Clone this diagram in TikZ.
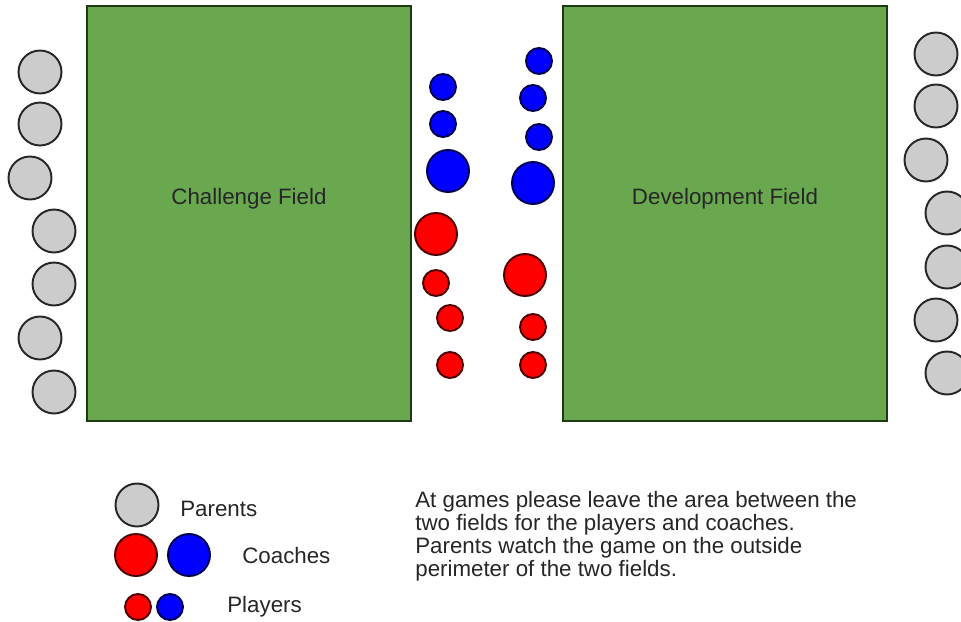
\documentclass[tikz,border=0pt]{standalone}
\usepackage{fontspec}
\setmainfont{Liberation Sans}
\usepackage{xcolor}
\usepackage{tikz}
\usetikzlibrary{positioning}

\definecolor{fieldgreen}{HTML}{6AA84F}
\definecolor{fieldedge}{HTML}{1F3A12}
\definecolor{parentgrey}{HTML}{CCCCCC}

\begin{document}
\begin{tikzpicture}[
      x=0.02cm, y=-0.02cm,
      field/.style={draw=fieldedge, line width=1.2pt, fill=fieldgreen, minimum width=6.48cm, minimum height=8.3cm, inner sep=0pt},
      dot/.style={circle, draw=black!85, line width=1.1pt, inner sep=0pt},
      parent/.style={dot, fill=parentgrey, minimum size=0.86cm},
      coachred/.style={dot, fill=red, draw=black!70!red, minimum size=0.84cm},
      coachblue/.style={dot, fill=blue, draw=black!70!blue, minimum size=0.84cm},
      playerred/.style={dot, fill=red, draw=black!70!red, minimum size=0.52cm},
      playerblue/.style={dot, fill=blue, draw=black!70!blue, minimum size=0.52cm},
      fieldname/.style={font=\fontsize{12.7}{14}\selectfont, text=black!85},
      legend/.style={font=\fontsize{12.7}{14}\selectfont, text=black!85, anchor=west, inner sep=0pt},
      note/.style={font=\fontsize{12.7}{13.1}\selectfont, text=black!85, align=left, anchor=north west, inner sep=0pt}
    ]
    \useasboundingbox (0,0) rectangle (961,622);

    % fields
    \node[field] (challenge) at (249,213.5) {};
    \node[field] (development) at (725,213.5) {};
    \node[fieldname] (chlabel) at (249,199) {Challenge Field};
    \node[fieldname] (devlabel) at (725,199) {Development Field};

    % parents, left side
    \node[parent] (pl1) at (40,72) {};
    \node[parent] (pl2) at (40,124) {};
    \node[parent] (pl3) at (30,178) {};
    \node[parent] (pl4) at (54,231) {};
    \node[parent] (pl5) at (54,284) {};
    \node[parent] (pl6) at (40,338) {};
    \node[parent] (pl7) at (54,392) {};

    % parents, right side
    \node[parent] (pr1) at (936,54) {};
    \node[parent] (pr2) at (936,106) {};
    \node[parent] (pr3) at (926,160) {};
    \node[parent] (pr4) at (947,213) {};
    \node[parent] (pr5) at (947,267) {};
    \node[parent] (pr6) at (936,320) {};
    \node[parent] (pr7) at (947,373) {};

    % between the fields, left column
    \node[playerblue] (bl1) at (443,87) {};
    \node[playerblue] (bl2) at (443,124) {};
    \node[coachblue] (cbl) at (448,171) {};
    \node[coachred] (crl) at (436,234) {};
    \node[playerred] (rl1) at (436,283) {};
    \node[playerred] (rl2) at (450,318) {};
    \node[playerred] (rl3) at (450,365) {};

    % between the fields, right column
    \node[playerblue] (br1) at (539,61) {};
    \node[playerblue] (br2) at (533,98) {};
    \node[playerblue] (br3) at (539,137) {};
    \node[coachblue] (cbr) at (533,183) {};
    \node[coachred] (crr) at (525,275) {};
    \node[playerred] (rr1) at (533,327) {};
    \node[playerred] (rr2) at (533,365) {};

    % legend
    \node[parent] (kparent) at (137,505) {};
    \node[legend] (kparenttxt) at (180,509) {Parents};
    \node[coachred] (kcoachr) at (136,555) {};
    \node[coachblue] (kcoachb) at (189,555) {};
    \node[legend] (kcoachtxt) at (242,556) {Coaches};
    \node[playerred] (kplayerr) at (138,607) {};
    \node[playerblue] (kplayerb) at (170,607) {};
    \node[legend] (kplayertxt) at (227,607) {Players};

    \node[note] (advice) at (415,491) {At games please leave the area between the\\two fields for the players and coaches.\\Parents watch the game on the outside\\perimeter of the two fields.};
  \end{tikzpicture}
\end{document}
